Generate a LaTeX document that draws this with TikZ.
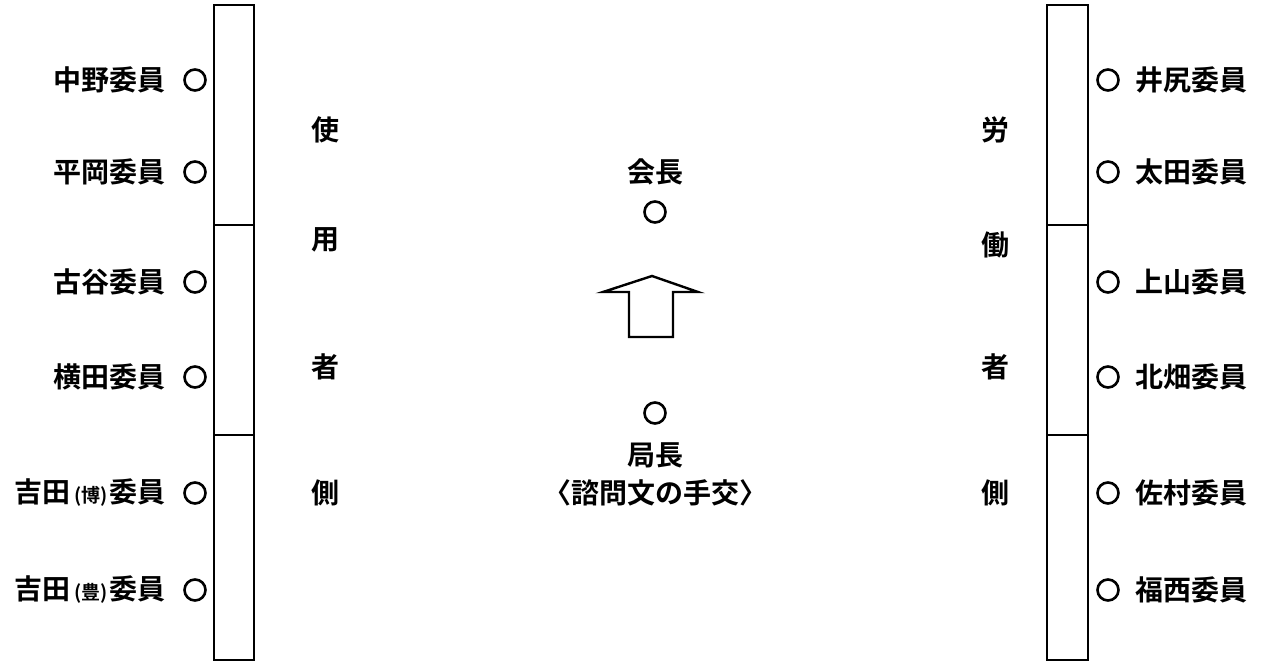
\documentclass[tikz,border=0pt]{standalone}
\usepackage{fontspec}
\newfontfamily\jp{Noto Sans CJK JP}[BoldFont={* Bold}]
\begin{document}
\begin{tikzpicture}[x=1pt,y=-1pt,
  txt/.style={font=\jp\bfseries\fontsize{28}{30}\selectfont, inner sep=0pt},
  seat/.style={circle, draw, line width=2.6pt, minimum size=21pt, inner sep=0pt},
  tbl/.style={line width=2.8pt}]
\useasboundingbox (0,0) rectangle (1262,663);
\newcommand{\sm}[1]{\hspace{4pt}{\fontsize{19}{20}\selectfont(#1)}\hspace{2pt}}
% tables
\draw[tbl] (214,5) rectangle (254,660);
\draw[tbl] (214,225) -- (254,225) (214,435) -- (254,435);
\draw[tbl] (1047,5) rectangle (1088,660);
\draw[tbl] (1047,225) -- (1088,225) (1047,435) -- (1088,435);
% left side
\foreach \n/\y/\t in {l1/80/中野委員, l2/172/平岡委員, l3/282/古谷委員, l4/377/横田委員, l5/493/吉田\sm{博}委員, l6/590/吉田\sm{豊}委員}{
  \node[seat] (c\n) at (195,\y) {};
  \node[txt, anchor=east] (t\n) at (166,\y) {\t};
}
% right side
\foreach \n/\y/\t in {r1/80/井尻委員, r2/172/太田委員, r3/282/上山委員, r4/377/北畑委員, r5/493/佐村委員, r6/590/福西委員}{
  \node[seat] (c\n) at (1108,\y) {};
  \node[txt, anchor=west] (t\n) at (1135,\y) {\t};
}
% vertical labels
\node[txt] (s1) at (325,130) {使};
\node[txt] (s2) at (325,240) {用};
\node[txt] (s3) at (325,367) {者};
\node[txt] (s4) at (325,493) {側};
\node[txt] (w1) at (995,130) {労};
\node[txt] (w2) at (995,245) {働};
\node[txt] (w3) at (995,367) {者};
\node[txt] (w4) at (995,493) {側};
% centre
\node[txt] (kaicho) at (655,172) {会長};
\node[seat] (ckai) at (655,212) {};
\node[seat] (ckyoku) at (655,413) {};
\node[txt] (kyoku) at (655,455) {局長};
\node[txt] (shimon) at (655,493) {〈諮問文の手交〉};
% arrow
\draw[line width=2.4pt, line join=miter] (629,337) -- (629,292) -- (603,292) -- (652,276) -- (698,292) -- (673,292) -- (673,337) -- cycle;
\end{tikzpicture}
\end{document}
